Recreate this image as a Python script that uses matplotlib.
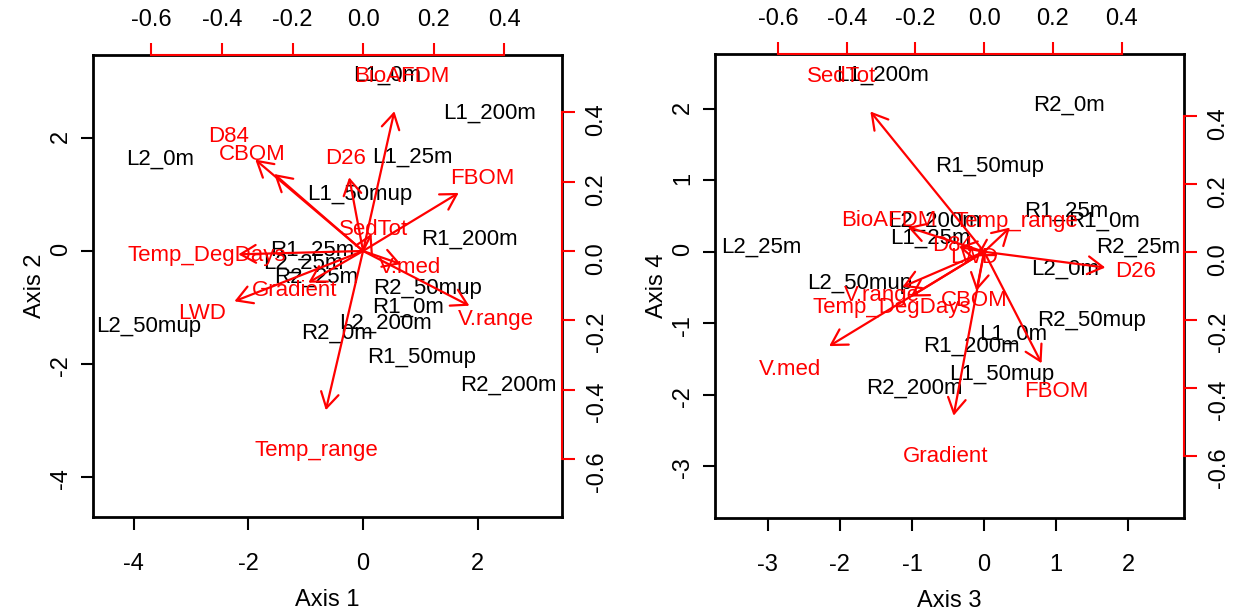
import matplotlib
matplotlib.use("Agg")
import matplotlib.pyplot as plt
from matplotlib.patches import FancyArrowPatch

plt.rcParams['font.family'] = ['Liberation Sans', 'DejaVu Sans']
plt.rcParams['axes.unicode_minus'] = False

# sites (scores) and environmental variables (loadings)
sites = ["L1_0m", "L1_25m", "L1_50mup", "L1_200m",
         "L2_0m", "L2_25m", "L2_50mup", "L2_200m",
         "R1_0m", "R1_25m", "R1_50mup", "R1_200m",
         "R2_0m", "R2_25m", "R2_50mup", "R2_200m"]
site_ax1 = [0.42, 0.86, -0.05, 2.20, -3.54, -1.05, -3.74, 0.39,
            0.79, -0.88, 1.03, 1.85, -0.46, -0.81, 1.12, 2.53]
site_ax2 = [3.12, 1.66, 1.00, 2.44, 1.63, -0.21, -1.33, -1.28,
            -1.00, 0.02, -1.88, 0.21, -1.46, -0.46, -0.67, -2.37]
site_ax3 = [0.40, -0.74, 0.24, -1.41, 1.12, -3.09, -1.72, -0.69,
            1.66, 1.14, 0.07, -0.18, 1.17, 2.14, 1.49, -0.97]
site_ax4 = [-1.16, 0.19, -1.72, 2.48, -0.25, 0.06, -0.45, 0.43,
            0.43, 0.57, 1.19, -1.32, 2.06, 0.07, -0.96, -1.91]

variables = ["SedTot", "BioAFDM", "FBOM", "CBOM", "D26", "D84",
             "LWD", "Gradient", "V.med", "V.range", "Temp_DegDays", "Temp_range"]
load_ax1 = [0.030, 0.111, 0.339, -0.315, -0.049, -0.382,
            -0.456, -0.194, 0.134, 0.377, -0.442, -0.132]
load_ax2 = [0.062, 0.503, 0.209, 0.277, 0.265, 0.329,
            -0.181, -0.114, -0.047, -0.197, -0.012, -0.573]
load_ax3 = [-0.414, -0.278, 0.209, -0.028, 0.441, -0.092,
            -0.028, -0.111, -0.564, -0.297, -0.268, 0.094]
load_ax4 = [0.516, 0.091, -0.410, -0.144, -0.058, 0.018,
            -0.017, -0.603, -0.347, -0.129, -0.165, 0.089]

sec_ticks = [-0.6, -0.4, -0.2, 0.0, 0.2, 0.4]
FS = 16
TS = 17


def biplot(fig, rect, sx, sy, lx, ly, lim, ratio, ticks, xlab, ylab):
    ax = fig.add_axes(rect)
    ax.set_xlim(lim)
    ax.set_ylim(lim)
    for name, x, y in zip(sites, sx, sy):
        ax.text(x, y, name, ha="center", va="center", fontsize=FS, color="black")
    ax.set_xticks(ticks)
    ax.set_yticks(ticks)
    ax.tick_params(length=9, width=1.5, labelsize=TS)
    ax.tick_params(axis="x", pad=17)
    ax.tick_params(axis="y", labelrotation=90, pad=6)
    for s in ax.spines.values():
        s.set_linewidth(2)
    ax.set_xlabel(xlab, fontsize=TS, labelpad=10)
    ax.set_ylabel(ylab, fontsize=TS, labelpad=3)

    # second coordinate system for the arrows, like R's biplot
    ax2 = fig.add_axes(rect)
    ax2.patch.set_visible(False)
    ax2.set_xlim(lim[0] / ratio, lim[1] / ratio)
    ax2.set_ylim(lim[0] / ratio, lim[1] / ratio)
    ax2.xaxis.tick_top()
    ax2.yaxis.tick_right()
    ax2.set_xticks(sec_ticks)
    ax2.set_yticks(sec_ticks)
    ax2.set_xticklabels([f"{t:.1f}" for t in sec_ticks])
    ax2.set_yticklabels([f"{t:.1f}" for t in sec_ticks])
    ax2.tick_params(length=9, width=1.5, color="red", labelcolor="black",
                    labelsize=TS, pad=8)
    ax2.tick_params(axis="y", labelrotation=90)
    ax2.spines["left"].set_visible(False)
    ax2.spines["bottom"].set_visible(False)
    for side in ("top", "right"):
        ax2.spines[side].set_color("red")
        ax2.spines[side].set_linewidth(1.5)
        ax2.spines[side].set_bounds(sec_ticks[0], sec_ticks[-1])

    for name, x, y in zip(variables, lx, ly):
        arr = FancyArrowPatch((0, 0), (0.8 * x, 0.8 * y),
                              arrowstyle="->,head_length=0.55,head_width=0.32",
                              mutation_scale=20, color="red", lw=1.6,
                              shrinkA=0, shrinkB=0)
        ax2.add_patch(arr)
        ax2.text(x, y, name, ha="center", va="center", fontsize=FS, color="red")
    return ax, ax2


fig = plt.figure(figsize=(12.45, 6.16), dpi=100)

biplot(fig, [0.0747, 0.1607, 0.3767, 0.75], site_ax1, site_ax2,
       load_ax1, load_ax2, (-4.71, 3.47), 6.15, [-4, -2, 0, 2], "Axis 1", "Axis 2")
biplot(fig, [0.5743, 0.1590, 0.3767, 0.7533], site_ax3, site_ax4,
       load_ax3, load_ax4, (-3.73, 2.77), 4.76, [-3, -2, -1, 0, 1, 2], "Axis 3", "Axis 4")

fig.savefig("out.png", dpi=100)
